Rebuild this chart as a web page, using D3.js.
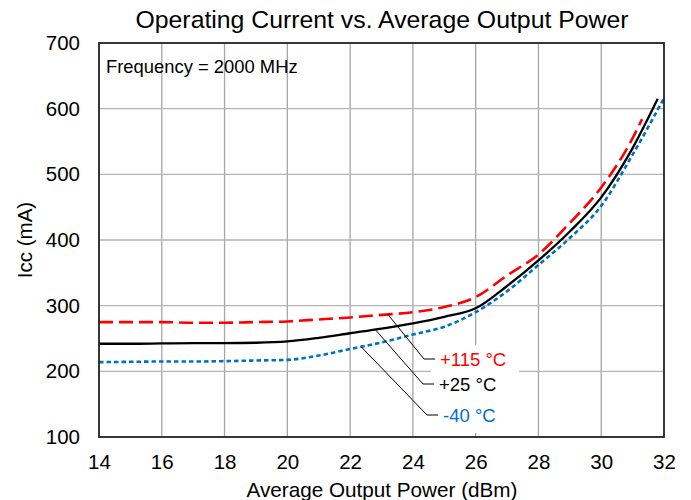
<!DOCTYPE html>
<html><head><meta charset="utf-8">
<script src="https://cdn.jsdelivr.net/npm/d3@7"></script>
<style>body{margin:0;background:#fff}svg{display:block}text{font-family:"Liberation Sans",Arial,sans-serif}</style>
</head><body>
<svg id="c" width="691" height="500"></svg>
<script>
const xTicks = [14,16,18,20,22,24,26,28,30,32];
const yTicks = [100,200,300,400,500,600,700];
const hotX = [14,15,16,17,18,19,20,21,22,23,24,25,26,27,28,29,30,31,31.3];
const hotY = [275,275,275,274,274,275,276,279,282,286,290,298,313,346,378,426,480,555,584];
const roomX = [14,15,16,17,18,19,20,21,22,23,24,25,26,27,28,29,30,31,31.8];
const roomY = [242,242,242.5,243,243,243.5,245.5,251,258,265,273,283,296,330,369,413,465,540,615];
const coldX = [14,15,16,17,18,19,20,21,22,23,24,25,26,27,28,29,30,31,32];
const coldY = [214,214.5,215,215,215.5,216.5,217.5,224,234,244,256,268,290,322,362,403,452,530,616];
const seriesNames = ["+115 °C","+25 °C","-40 °C"];
const anchorX = [23.2, 22.8, 22.35];

const svg = d3.select("#c");
const L=99,R=664,T=43,B=437;
const x = d3.scaleLinear().domain([14,32]).range([L,R]);
const y = d3.scaleLinear().domain([100,700]).range([B,T]);
const font = '"Liberation Sans",Arial,sans-serif';

// grid
const g = svg.append("g");
g.selectAll("line.v").data(xTicks.slice(1,-1)).join("line")
 .attr("x1",d=>x(d)).attr("x2",d=>x(d)).attr("y1",T).attr("y2",B)
 .attr("stroke","#a6a6a6").attr("stroke-width",1.3);
g.selectAll("line.h").data(yTicks.slice(1,-1)).join("line")
 .attr("y1",d=>y(d)).attr("y2",d=>y(d)).attr("x1",L).attr("x2",R)
 .attr("stroke","#b4b4b4").attr("stroke-width",1.3);

// axes tick labels via d3 axes
const xa = svg.append("g").attr("transform",`translate(0,${B})`)
 .call(d3.axisBottom(x).tickValues(xTicks).tickSize(0).tickPadding(17).tickFormat(d3.format("d")));
xa.select(".domain").remove();
xa.selectAll("text").attr("font-size",20.5).attr("font-family",font).attr("fill","#000");
const ya = svg.append("g").attr("transform",`translate(${L},0)`)
 .call(d3.axisLeft(y).tickValues(yTicks).tickSize(0).tickPadding(19).tickFormat(d3.format("d")));
ya.select(".domain").remove();
ya.selectAll("text").attr("font-size",20.5).attr("font-family",font).attr("fill","#000");

// series
const line = d3.line().curve(d3.curveMonotoneX).x(d=>x(d[0])).y(d=>y(d[1]));
const sets = [
 {xs:hotX, ys:hotY, color:"#ff0000", w:2.6, dash:"14,6"},
 {xs:roomX, ys:roomY, color:"#000000", w:2.3, dash:null},
 {xs:coldX, ys:coldY, color:"#0070c0", w:2.6, dash:"4.5,3"}
];
sets.forEach(s=>{
  const pts = s.xs.map((v,i)=>[v,s.ys[i]]);
  svg.append("path").datum(pts).attr("d",line).attr("fill","none")
   .attr("stroke",s.color).attr("stroke-width",s.w)
   .attr("stroke-dasharray",s.dash);
});

// label box
svg.append("rect").attr("x",431).attr("y",345).attr("width",88).attr("height",88).attr("fill","#fff");
const labY = [359,384,415];
const textColors = ["#ff0000","#000000","#0070c0"];
const textX = [440,439,443];
sets.forEach((s,i)=>{
  const ax = anchorX[i];
  let j = s.xs.findIndex(v=>v>ax);
  const t = (ax - s.xs[j-1])/(s.xs[j]-s.xs[j-1]);
  const av = s.ys[j-1] + t*(s.ys[j]-s.ys[j-1]);
  svg.append("polyline")
   .attr("points",`${x(ax)},${y(av)} ${textX[i]-16},${labY[i]} ${textX[i]-5},${labY[i]}`)
   .attr("fill","none").attr("stroke","#000").attr("stroke-width",1);
  svg.append("text").attr("x",textX[i]).attr("y",labY[i]+7)
   .attr("font-size",18.5).attr("fill",textColors[i]).text(seriesNames[i]);
});

// border
svg.append("rect").attr("x",L).attr("y",T).attr("width",R-L).attr("height",B-T)
 .attr("fill","none").attr("stroke","#222").attr("stroke-width",1.8);

svg.append("text").attr("x",106).attr("y",73).attr("font-size",18.4).text("Frequency = 2000 MHz");
svg.append("text").attr("x",382).attr("y",28).attr("text-anchor","middle").attr("font-size",24.8)
 .text("Operating Current vs. Average Output Power");
svg.append("text").attr("x",382).attr("y",497).attr("text-anchor","middle").attr("font-size",20.7)
 .text("Average Output Power (dBm)");
svg.append("text").attr("transform","translate(32,240) rotate(-90)").attr("text-anchor","middle").attr("font-size",20.5)
 .text("Icc (mA)");
</script>
</body></html>
